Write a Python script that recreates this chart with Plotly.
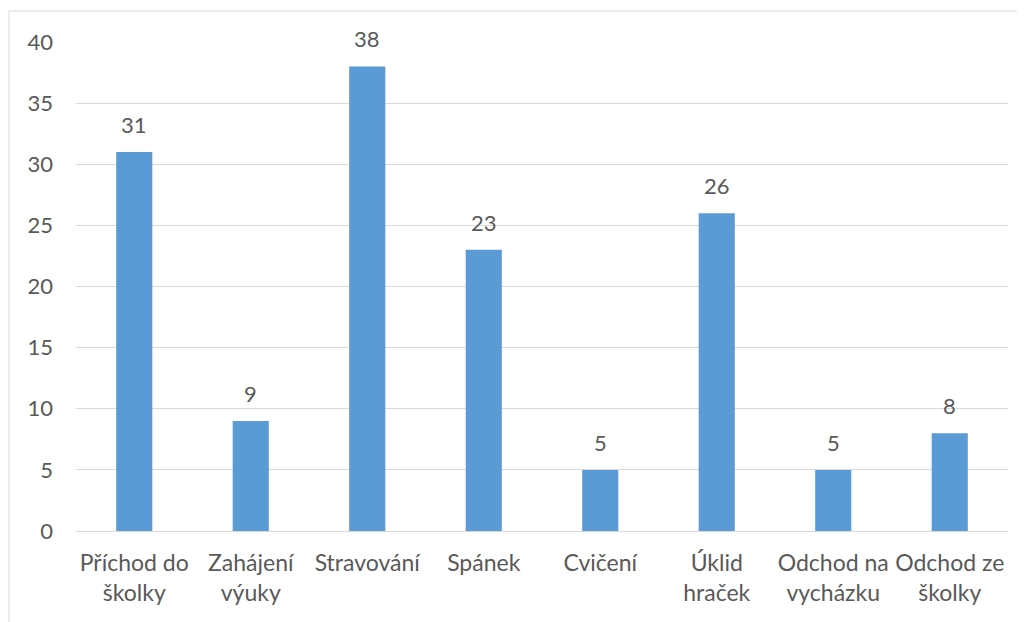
import plotly.graph_objects as go

categories = ["Příchod do<br>školky", "Zahájení<br>výuky", "Stravování", "Spánek",
              "Cvičení", "Úklid<br>hraček", "Odchod na<br>vycházku", "Odchod ze<br>školky"]
values = [31, 9, 38, 23, 5, 26, 5, 8]
y_ticks = [0, 5, 10, 15, 20, 25, 30, 35, 40]

FONT = "Lato, 'Open Sans', sans-serif"
GREY = "#595959"
FS = 23

fig = go.Figure()
fig.add_trace(go.Bar(x=categories, y=values, marker=dict(color="#5B9BD5", line=dict(width=0)),
                     width=0.31, hoverinfo="skip"))

for c, v in zip(categories, values):
    fig.add_annotation(x=c, y=v, text=str(v), showarrow=False, yanchor="bottom", yshift=12,
                       font=dict(family=FONT, size=FS - 1, color=GREY))

fig.add_shape(type="rect", xref="paper", yref="paper", x0=-0.0719, x1=1.03, y0=-0.25, y1=1.0634,
              line=dict(color="#d9d9d9", width=1), fillcolor="rgba(0,0,0,0)", layer="below")

fig.update_layout(
    width=1017, height=614,
    margin=dict(l=68, r=17, t=34, b=91),
    paper_bgcolor="white", plot_bgcolor="white",
    showlegend=False,
    font=dict(family=FONT, size=FS, color=GREY),
    xaxis=dict(type="category", showgrid=False, showline=False, ticks="", ticklabelstandoff=16,
               tickfont=dict(family=FONT, size=FS, color=GREY), fixedrange=True),
    yaxis=dict(range=[0, 40], tickvals=y_ticks, showgrid=True, gridcolor="#d9d9d9", gridwidth=1,
               zeroline=True, zerolinecolor="#d9d9d9", zerolinewidth=1, showline=False, ticks="",
               ticklabelstandoff=22, tickfont=dict(family=FONT, size=FS - 1, color=GREY)),
)

fig.write_html("out.html")
